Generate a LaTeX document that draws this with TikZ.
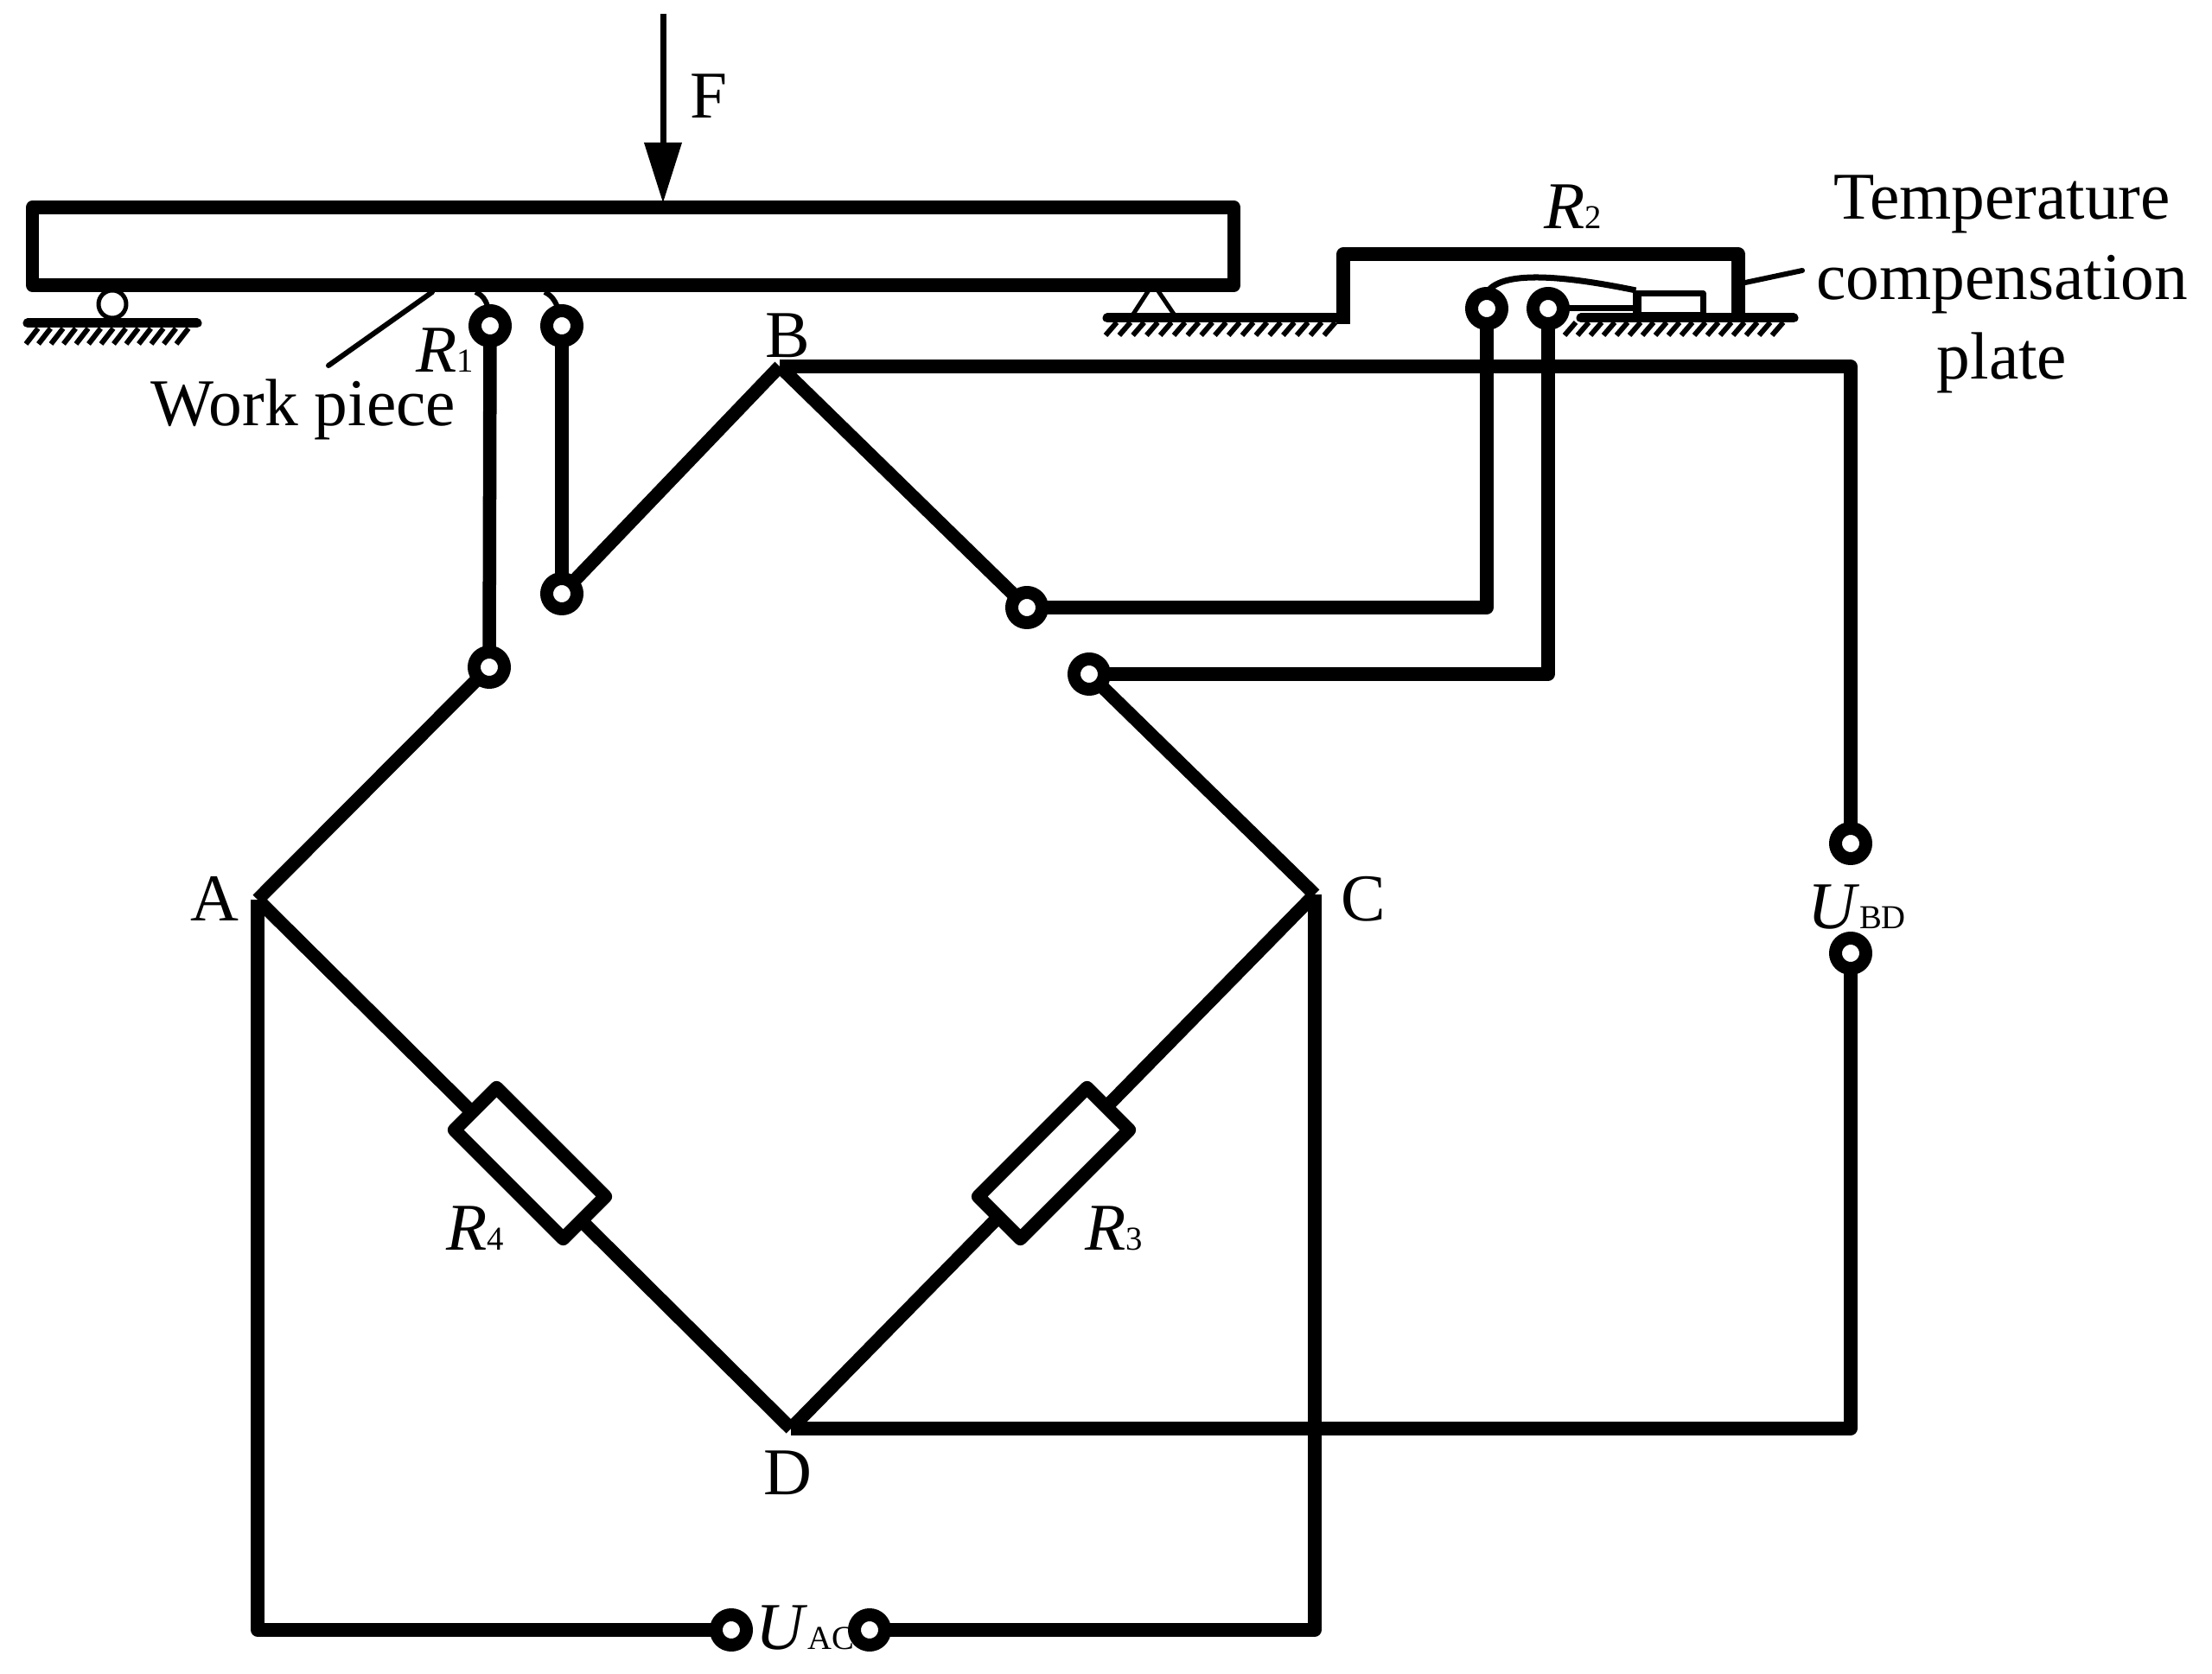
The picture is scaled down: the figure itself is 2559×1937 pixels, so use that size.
\documentclass[tikz,border=0pt]{standalone}
\usepackage{fontspec}
\setmainfont{Liberation Serif}
\usetikzlibrary{arrows.meta}
\newcommand{\labelsub}[2]{\textit{#1}{\fontsize{11}{12}\selectfont #2}}
\begin{document}
\begin{tikzpicture}
  [x=0.01cm, y=-0.01cm, line join=round,
    wire/.style={line width=0.155cm},
    thin wire/.style={line width=0.06cm},
    ground/.style={line width=0.11cm, line cap=round},
    hatch/.style={line width=0.06cm},
    terminal/.style={
      circle,
      draw,
      fill=white,
      line width=0.15cm,
      inner sep=0pt,
      minimum size=0.35cm
    },
    resistor/.style={
      rectangle,
      draw,
      fill=white,
      line width=0.155cm,
      minimum width=1.78cm,
      minimum height=0.69cm
    },
    every label text/.style={
      font=\fontsize{22}{26.4}\selectfont,
      inner sep=0pt
    },
  ]
\useasboundingbox (0,0) rectangle (2559,1937);

% Bridge corners
\coordinate (A) at (298,1041);
\coordinate (B) at (902,424);
\coordinate (C) at (1521,1035);
\coordinate (D) at (915,1653);

% Draw terminals
\foreach \n/\x/\y in {r1a/567/377, r1b/650/377, r2a/1720/357, r2b/1791/357,
    a/566/772, b/650/687, c/1188/703, d/1260/780,
    bd1/2141/976, bd2/2141/1103, ac1/846/1886, ac2/1006/1886}
  \coordinate (pos-\n) at (\x,\y);

% Workpiece and supports
\coordinate (pivot) at (1334,328);
\draw [line width=0.05cm] (1310,365) -- (pivot) -- (1359,365);
\node [draw, line width=0.155cm, minimum width=13.89cm, minimum height=0.9cm,
  inner sep=0pt] (beam) at (732.5,285) {};
\draw [ground] (32,374) -- (228,374);
\foreach \x in {0,...,12}
  \draw [hatch] (30+\x*14.5,398) -- ++(14,-18);
\node [circle, draw, line width=0.05cm, minimum size=0.32cm, inner sep=0pt]
  (roller) at (130,352) {};

% Compensation plate
\coordinate (step-a) at (1281,368);
\coordinate (step-b) at (1554,375);
\coordinate (step-c) at (2011,368);
\draw [ground] (step-a) -- (1548,368);
\draw [wire] (step-b) -- (1554,294) -- (2011,294) -- (step-c);
\draw [ground] (1829,368) -- (2075,368);
\foreach \x in {0,...,16}
  \draw [hatch] (1279+\x*15.8,388) -- ++(13,-15);
\foreach \x in {0,...,16}
  \draw [hatch] (1810+\x*15,388) -- ++(13,-15);
\node [draw, line width=0.07cm, minimum width=0.74cm, minimum height=0.25cm,
  inner sep=0pt] (gauge) at (1933,352) {};
\coordinate (gauge-in) at (gauge.west |- pos-r2b);

% Connect bridge arms
\draw [wire] (pos-a) -- (A);
\draw [wire] (pos-b) -- (B);
\draw [wire] (B) -- (pos-c);
\draw [wire] (pos-d) -- (C);
\draw [wire] (A) -- (D);
\draw [wire] (C) -- (D);

% Connect outer wires
\draw [wire] (pos-r1a) -- (pos-a);
\draw [wire] (pos-r1b) -- (pos-b);
\draw [wire] (pos-c) -| (pos-r2a);
\draw [wire] (pos-d) -| (pos-r2b);
\draw [wire] (B) -| (pos-bd1);
\draw [wire] (pos-bd2) |- (D);
\draw [wire] (A) |- (pos-ac1);
\draw [wire] (C) |- (pos-ac2);

% Gauge leads
\coordinate (lead-a) at (550,338);
\coordinate (lead-b) at (630,338);
\draw [thin wire] (lead-a) .. controls (560,342) and (566,350) .. (pos-r1a);
\draw [thin wire] (lead-b) .. controls (639,342) and (646,350) .. (pos-r1b);
\draw [line width=0.02cm] (510,323) -- (525,323);
\draw [line width=0.02cm] (584,323) -- (599,323);
\draw [line width=0.07cm] (pos-r2b) -- (gauge-in);
\draw [line width=0.07cm] (gauge.south west) -- (gauge.north west);
\draw [line width=0.07cm] (1722,336) .. controls (1740,315) and (1800,317) .. (gauge.north west);

% Draw terminal rings on top
\foreach \n in {r1a,r1b,r2a,r2b,a,b,c,d,bd1,bd2,ac1,ac2}
  \node [terminal] (term-\n) at (pos-\n) {};

% Resistors
\node [resistor, rotate=-45] (res-4) at (613,1346) {};
\node [resistor, rotate=45] (res-3) at (1219,1346) {};

% Leaders
\coordinate (work-end) at (380,423);
\coordinate (plate-end) at (2085,313);
\draw [thin wire, line cap=round] (work-end) -- (500,338);
\draw [thin wire, line cap=round] (plate-end) -- (2019,327);

% Force
\coordinate (force-top) at (767,16);
\coordinate (force-tip) at (767,235);
\draw [line width=0.07cm, -{Triangle[length=0.7cm,width=0.42cm]}] (force-top) -- (force-tip);

% Labels
\node [every label text] (lab-F) at (820,111) {F};
\node [every label text] (lab-A) at (248,1040) {A};
\node [every label text] (lab-B) at (911,388) {B};
\node [every label text] (lab-C) at (1577,1040) {C};
\node [every label text] (lab-D) at (911,1704) {D};
\node [every label text] (lab-work) at (351,474) {Work piece};
\node [every label text] (lab-r1) at (515,405) {\labelsub{R}{1}};
\node [every label text] (lab-r2) at (1820,239) {\labelsub{R}{2}};
\node [every label text] (lab-r3) at (1289,1421) {\labelsub{R}{3}};
\node [every label text] (lab-r4) at (550,1421) {\labelsub{R}{4}};
\node [every label text] (lab-bd) at (2148,1050) {\labelsub{U}{BD}};
\node [every label text] (lab-ac) at (931,1884) {\labelsub{U}{AC}};
\node [every label text, align=center] (lab-plate) at (2316,329)
  {Temperature\\compensation\\plate};
\end{tikzpicture}
\end{document}
